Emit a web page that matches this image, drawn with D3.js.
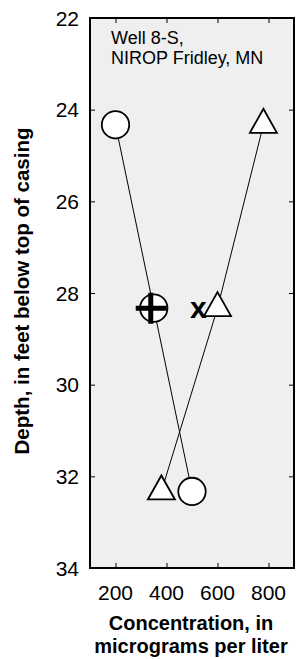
<!DOCTYPE html>
<html>
<head>
<meta charset="utf-8">
<script src="https://cdn.jsdelivr.net/npm/d3@7"></script>
<style>
  html, body { margin: 0; padding: 0; background: #ffffff; }
  svg { display: block; }
  text { font-family: "Liberation Sans", Arial, Helvetica, sans-serif; fill: #000; }
</style>
</head>
<body>
<div id="chart"></div>
<script>
// ---- data ----
const depths = [24.33, 28.33, 32.33];           // feet below top of casing
const circleConc = [200, 350, 500];             // circle series (micrograms per liter)
const triangleConc = [780, 600, 380];           // triangle series
const crossedConc = [350];                      // crossed-circle marker
const crossedDepth = [28.33];
const xMarkConc = [525];                        // "x" marker
const xMarkDepth = [28.33];
const xTicks = [200, 400, 600, 800];
const yTicks = [22, 24, 26, 28, 30, 32, 34];
const xDomain = [100, 900];
const yDomain = [22, 34];
const annotation = ["Well 8-S,", "NIROP Fridley, MN"];
const xTitle = ["Concentration, in", "micrograms per liter"];
const yTitle = "Depth, in feet below top of casing";

// ---- layout ----
const W = 297, H = 659;
const plot = { left: 90, right: 294, top: 18, bottom: 568 };

const svg = d3.select("#chart").append("svg")
  .attr("width", W).attr("height", H);

const x = d3.scaleLinear().domain(xDomain).range([plot.left, plot.right]);
const y = d3.scaleLinear().domain(yDomain).range([plot.top, plot.bottom]);

// plot background
svg.append("rect")
  .attr("x", plot.left).attr("y", plot.top)
  .attr("width", plot.right - plot.left).attr("height", plot.bottom - plot.top)
  .attr("fill", "#efefef");

// inward ticks on all four sides using d3 axes
const tickLen = 5;
svg.append("g").attr("transform", `translate(0,${plot.bottom})`)
  .call(d3.axisTop(x).tickValues(xTicks).tickSize(tickLen).tickFormat(""))
  .call(g => g.select(".domain").remove());
svg.append("g").attr("transform", `translate(0,${plot.top})`)
  .call(d3.axisBottom(x).tickValues(xTicks).tickSize(tickLen).tickFormat(""))
  .call(g => g.select(".domain").remove());
svg.append("g").attr("transform", `translate(${plot.left},0)`)
  .call(d3.axisRight(y).tickValues(yTicks).tickSize(tickLen).tickFormat(""))
  .call(g => g.select(".domain").remove());
svg.append("g").attr("transform", `translate(${plot.right},0)`)
  .call(d3.axisLeft(y).tickValues(yTicks).tickSize(tickLen).tickFormat(""))
  .call(g => g.select(".domain").remove());
svg.selectAll(".tick line").attr("stroke", "#000").attr("stroke-width", 1);

// tick labels
svg.append("g").selectAll("text").data(yTicks).join("text")
  .attr("x", 79).attr("y", d => y(d)).attr("dy", "0.36em")
  .attr("text-anchor", "end").attr("font-size", 21)
  .text(d => d);
svg.append("g").selectAll("text").data(xTicks).join("text")
  .attr("x", d => x(d)).attr("y", 600)
  .attr("text-anchor", "middle").attr("font-size", 21)
  .text(d => d);

// frame
svg.append("rect")
  .attr("x", plot.left).attr("y", plot.top)
  .attr("width", plot.right - plot.left).attr("height", plot.bottom - plot.top)
  .attr("fill", "none").attr("stroke", "#000").attr("stroke-width", 2);

// annotation
svg.append("g").selectAll("text").data(annotation).join("text")
  .attr("x", 111).attr("y", (d, i) => 43.5 + i * 20.8)
  .attr("font-size", 18)
  .text(d => d);

// lines
const line = d3.line().x(d => x(d[0])).y(d => y(d[1]));
svg.append("path")
  .datum(circleConc.map((c, i) => [c, depths[i]]))
  .attr("d", line).attr("fill", "none").attr("stroke", "#000").attr("stroke-width", 1);
svg.append("path")
  .datum(triangleConc.map((c, i) => [c, depths[i]]))
  .attr("d", line).attr("fill", "none").attr("stroke", "#000").attr("stroke-width", 1);

// circle markers
svg.append("g").selectAll("circle").data(circleConc.map((c, i) => [c, depths[i]])).join("circle")
  .attr("cx", d => x(d[0])).attr("cy", d => y(d[1])).attr("r", 13.7)
  .attr("fill", "#fff").attr("stroke", "#000").attr("stroke-width", 1.8);

// triangle markers (centroid at data point)
svg.append("g").selectAll("path").data(triangleConc.map((c, i) => [c, depths[i]])).join("path")
  .attr("d", "M0,-16L13.5,8L-13.5,8Z")
  .attr("transform", d => `translate(${x(d[0])},${y(d[1])})`)
  .attr("fill", "#fff").attr("stroke", "#000").attr("stroke-width", 1.8).attr("stroke-linejoin", "miter");

// crossed-circle plus overlay
svg.append("g").selectAll("path").data(crossedConc.map((c, i) => [c, crossedDepth[i]])).join("path")
  .attr("d", "M-18,0L13,0M-3,-15.5L-3,15.5")
  .attr("transform", d => `translate(${x(d[0])},${y(d[1])})`)
  .attr("fill", "none").attr("stroke", "#000").attr("stroke-width", 5);

// x marker
svg.append("g").selectAll("text").data(xMarkConc.map((c, i) => [c, xMarkDepth[i]])).join("text")
  .attr("x", d => x(d[0])).attr("y", d => y(d[1]) + 10)
  .attr("text-anchor", "middle").attr("font-size", 30).attr("font-weight", "bold")
  .text("x");

// axis titles
svg.append("g").selectAll("text").data(xTitle).join("text")
  .attr("x", 191).attr("y", (d, i) => 630 + i * 23)
  .attr("text-anchor", "middle").attr("font-size", 20).attr("font-weight", "bold")
  .text(d => d);
svg.append("text")
  .attr("transform", `translate(29,291) rotate(-90)`)
  .attr("text-anchor", "middle").attr("font-size", 20.5).attr("font-weight", "bold")
  .text(yTitle);
</script>
</body>
</html>
